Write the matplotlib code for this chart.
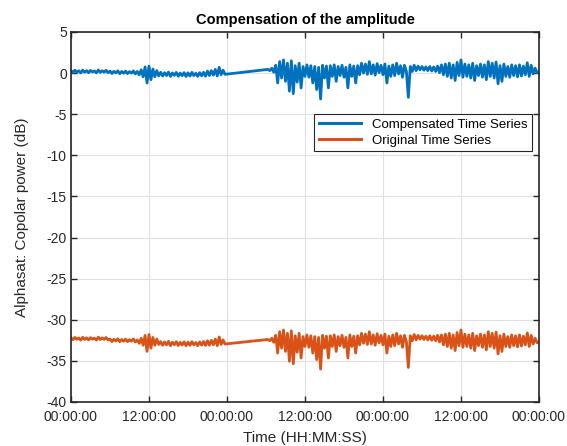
import numpy as np
import matplotlib
matplotlib.use("Agg")
import matplotlib.pyplot as plt

plt.rcParams['font.family'] = ['Liberation Sans', 'DejaVu Sans']
plt.rcParams['axes.unicode_minus'] = False

# Sampling: two recording sessions, 0.3 h between samples
session_starts_h = [0.0, 30.3]
sample_step_h = 0.3

# Compensated copolar power (dB), session 1 and session 2
compensated_s1 = [
    0.32, 0.08, 0.35, 0.12, 0.28, 0.02, 0.36, 0.10, 0.30, 0.05,
    0.33, 0.14, 0.26, 0.03, 0.38, 0.09, 0.29, 0.11, 0.34, 0.04,
    0.25, -0.05, 0.22, 0.02, 0.28, -0.08, 0.20, -0.02, 0.24, -0.06,
    0.18, 0.00, 0.27, -0.10,
    0.20, -0.22, 0.40, -0.45, 0.75, -1.20, 0.85, -0.80, 0.50, -0.45, 0.30, -0.35,
    0.10, -0.35, 0.05, -0.30, 0.12, -0.40, 0.02, -0.28, 0.08, -0.38,
    0.00, -0.32, 0.06, -0.42, 0.03, -0.36, 0.09, -0.30, -0.02, -0.40,
    0.05, -0.33, 0.10, -0.38,
    0.25, -0.30, 0.30, -0.25, 0.45, -0.35, 0.70, -0.20, 0.35, -0.15,
]
compensated_s2 = [
    0.45, 0.30, 0.60, 0.10, 0.95, -1.20, 1.40, -0.60, 1.60, -1.00,
    1.20, -2.20, 1.50, -2.50, 0.90, -1.10, 1.20, -1.80, 0.80, -0.40,
    1.00, -0.50, 0.90, -1.20, 0.80, -2.00, 0.70, -3.15, 0.95, -0.60,
    0.85, -1.80, 0.90, -0.40, 1.00, -1.00, 0.80, -0.30, 0.95, -0.50,
    0.70, -1.80, 1.00, -0.40, 0.85, -1.20, 0.90, -0.20, 1.20, 0.00,
    1.10, -0.15, 1.40, -0.10, 1.00, -0.25, 1.15, 0.05, 0.95, -0.20,
    1.10, -1.20, 0.85, -0.40, 1.00, -0.30, 1.20, -0.10, 0.90, -0.50,
    0.95, 0.20, -2.95, 0.80, 0.20, 0.95, 0.30, 0.85, 0.40, 0.80,
    0.35, 0.75, 0.30, 0.80, 0.25, 0.75, 0.20, 0.85, 0.05, 1.00,
    -0.20, 1.10, -0.40, 1.20, -0.60, 1.00, -0.90, 1.30, -0.30, 1.60,
    -0.50, 1.10, -0.40, 1.00, -0.60, 1.20, -0.90, 0.90, -0.30, 1.10,
    -0.50, 1.00, -0.80, 1.40, -0.40, 1.20, -0.60, 1.35, -1.30, 0.90,
    -1.00, 1.10, -0.40, 0.80, -0.50, 1.00, -0.30, 0.90, -0.45, 1.00,
    -0.35, 0.85, -0.20, 1.25, -0.40, 0.95, -0.10, 0.60, 0.05, 0.15,
]

# Original (uncompensated) copolar power (dB)
original_s1 = [
    -32.18, -32.42, -32.15, -32.38, -32.22, -32.48, -32.14, -32.40, -32.20, -32.45,
    -32.17, -32.36, -32.24, -32.47, -32.12, -32.41, -32.21, -32.39, -32.16, -32.46,
    -32.35, -32.65, -32.38, -32.58, -32.32, -32.68, -32.40, -32.62, -32.36, -32.66,
    -32.42, -32.60, -32.33, -32.70,
    -32.45, -32.87, -32.25, -33.10, -31.90, -33.85, -31.80, -33.45, -32.15, -33.10,
    -32.35, -33.00,
    -32.65, -33.10, -32.70, -33.05, -32.63, -33.15, -32.73, -33.03, -32.67, -33.13,
    -32.75, -33.07, -32.69, -33.17, -32.72, -33.11, -32.66, -33.05, -32.77, -33.15,
    -32.70, -33.08, -32.65, -33.13,
    -32.55, -33.10, -32.50, -33.05, -32.35, -33.15, -32.10, -33.00, -32.45, -32.95,
]
original_s2 = [
    -32.40, -32.55, -32.25, -32.75, -31.90, -34.05, -31.45, -33.45, -31.25, -33.85,
    -31.65, -35.05, -31.35, -35.35, -31.95, -33.95, -31.65, -34.65, -32.05, -33.25,
    -31.85, -33.35, -31.95, -34.05, -32.05, -34.85, -32.15, -36.00, -31.90, -33.45,
    -32.00, -34.65, -31.95, -33.25, -31.85, -33.85, -32.05, -33.15, -31.90, -33.35,
    -32.15, -34.65, -31.85, -33.25, -32.00, -34.05, -31.95, -33.05, -31.65, -32.85,
    -31.75, -33.00, -31.45, -32.95, -31.85, -33.10, -31.70, -32.80, -31.90, -33.05,
    -31.75, -34.05, -32.00, -33.25, -31.85, -33.15, -31.65, -32.95, -31.95, -33.35,
    -31.90, -32.65, -35.80, -31.95, -32.55, -31.80, -32.45, -31.90, -32.35, -31.95,
    -32.40, -32.00, -32.45, -31.95, -32.50, -32.00, -32.55, -31.90, -32.70, -31.85,
    -33.05, -31.75, -33.25, -31.65, -33.45, -31.85, -33.75, -31.55, -33.15, -31.25,
    -33.35, -31.75, -33.25, -31.85, -33.45, -31.65, -33.75, -31.95, -33.15, -31.75,
    -33.35, -31.85, -33.65, -31.45, -33.25, -31.65, -33.45, -31.50, -34.15, -31.95,
    -33.85, -31.75, -33.25, -32.05, -33.35, -31.85, -33.15, -31.95, -33.30, -31.85,
    -33.20, -32.00, -33.05, -31.60, -33.25, -31.90, -32.95, -32.25, -32.80, -32.70,
]

x_tick_hours = [0, 12, 24, 36, 48, 60, 72]
x_tick_labels = ["00:00:00", "12:00:00", "00:00:00", "12:00:00",
                 "00:00:00", "12:00:00", "00:00:00"]
y_ticks = [-40, -35, -30, -25, -20, -15, -10, -5, 0, 5]


def session_times(start, n):
    return start + sample_step_h * np.arange(n)


t = np.concatenate([session_times(session_starts_h[0], len(compensated_s1)),
                    session_times(session_starts_h[1], len(compensated_s2))])
comp = np.array(compensated_s1 + compensated_s2)
orig = np.array(original_s1 + original_s2)

fig = plt.figure(figsize=(5.67, 4.46), dpi=100)
ax = fig.add_axes([0.1252, 0.0987, 0.8254, 0.8296])

ax.plot(t, comp, color='#0072BD', lw=2.0, label='Compensated Time Series')
ax.plot(t, orig, color='#D95319', lw=2.0, label='Original Time Series')

ax.set_xlim(0, 72)
ax.set_ylim(-40, 5)
ax.set_xticks(x_tick_hours)
ax.set_xticklabels(x_tick_labels)
ax.set_yticks(y_ticks)

ax.grid(True, color='#e0e0e0', lw=0.8)
ax.set_axisbelow(True)
for s in ax.spines.values():
    s.set_color('#262626')
    s.set_linewidth(1.2)
ax.tick_params(direction='in', length=4, width=1.0, top=True, right=True,
               labelsize=10, colors='#262626')
ax.tick_params(axis='x', pad=6)
ax.tick_params(axis='y', pad=3)

ax.set_title('Compensation of the amplitude', fontsize=10.5, fontweight='bold', pad=6)
ax.set_xlabel('Time (HH:MM:SS)', fontsize=11, color='#262626', labelpad=5)
ax.set_ylabel('Alphasat: Copolar power (dB)', fontsize=11, color='#262626', labelpad=13)

leg = ax.legend(loc='upper right', bbox_to_anchor=(0.985, 0.778), fontsize=9.5,
                frameon=True, fancybox=False, framealpha=1, edgecolor='#262626',
                handlelength=3.2, borderpad=0.35, labelspacing=0.25,
                borderaxespad=0)
leg.get_frame().set_linewidth(0.8)
for line in leg.get_lines():
    line.set_linewidth(2.2)

fig.savefig('out.png', dpi=100)
